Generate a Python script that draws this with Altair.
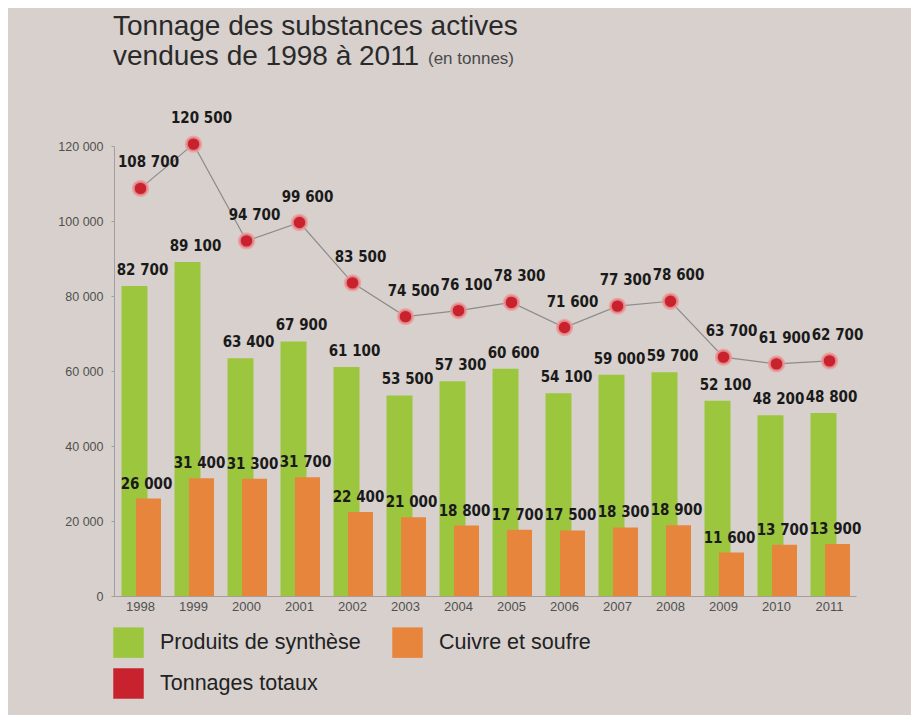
import altair as alt
import pandas as pd

years = ["1998", "1999", "2000", "2001", "2002", "2003", "2004", "2005", "2006", "2007", "2008", "2009", "2010", "2011"]
synthese = [82700, 89100, 63400, 67900, 61100, 53500, 57300, 60600, 54100, 59000, 59700, 52100, 48200, 48800]
cuivre = [26000, 31400, 31300, 31700, 22400, 21000, 18800, 17700, 17500, 18300, 18900, 11600, 13700, 13900]
totaux = [108700, 120500, 94700, 99600, 83500, 74500, 76100, 78300, 71600, 77300, 78600, 63700, 61900, 62700]

# legend is filled column by column: this order gives
# row 1: Produits de synthèse, Cuivre et soufre / row 2: Tonnages totaux
series_names = ["Produits de synthèse", "Tonnages totaux", "Cuivre et soufre"]
series_colors = ["#9dc63f", "#c8222e", "#e8853d"]
GREEN, RED, ORANGE = series_colors
y_ticks = [0, 20000, 40000, 60000, 80000, 100000, 120000]


def fr(v):
    return f"{v:,}".replace(",", " ")


df = pd.DataFrame({
    "year": years,
    "synth": synthese,
    "cuivre": cuivre,
    "total": totaux,
    "synth_lbl": [fr(v) for v in synthese],
    "cuivre_lbl": [fr(v) for v in cuivre],
    "total_lbl": [fr(v) for v in totaux],
})

LABEL_FONT = "Liberation Sans Narrow, DejaVu Sans Condensed, sans-serif"
TITLE_FONT = "Liberation Sans, Arial, sans-serif"

x_enc = alt.X(
    "year:O",
    sort=years,
    scale=alt.Scale(paddingInner=0, paddingOuter=0),
    axis=alt.Axis(
        title=None, labelAngle=0, ticks=False, labelFontSize=13, labelColor="#505050",
        labelPadding=4, domainColor="#a89c94", labelFont=TITLE_FONT,
    ),
)
y_scale = alt.Scale(domain=[0, 120000], nice=False)
y_enc_axis = alt.Axis(
    title=None, values=y_ticks, grid=False,
    labelExpr="replace(format(datum.value, ','), ',', ' ')",
    labelFontSize=12.5, labelColor="#505050", labelPadding=8, tickSize=3,
    tickColor="#a0a0a0", domainColor="#a0a0a0", labelFont=TITLE_FONT,
)

color_scale = alt.Scale(domain=series_names, range=series_colors)
legend = alt.Legend(
    title=None, orient="none", legendX=-1, legendY=481, columns=2,
    symbolType="square", symbolSize=930, symbolStrokeWidth=0, symbolOpacity=1,
    labelFontSize=21.5, labelColor="#222222", labelFont=TITLE_FONT,
    labelOffset=16, columnPadding=31, rowPadding=10, padding=0,
    labelLimit=400,
)

base = alt.Chart(df)

green = base.transform_calculate(series="'Produits de synthèse'").mark_bar(
    width=26, xOffset=-6
).encode(
    x=x_enc,
    y=alt.Y("synth:Q", scale=y_scale, axis=y_enc_axis),
    color=alt.Color("series:N", scale=color_scale, legend=legend),
)

orange = base.transform_calculate(series="'Cuivre et soufre'").mark_bar(
    width=25, xOffset=8
).encode(
    x=x_enc,
    y=alt.Y("cuivre:Q", scale=y_scale),
    color=alt.Color("series:N", scale=color_scale, legend=legend),
)

line = base.mark_line(color="#8c8c8c", strokeWidth=1.2).encode(
    x=x_enc, y=alt.Y("total:Q", scale=y_scale)
)

points = base.mark_point(
    filled=True, shape="circle", size=210, fill=RED, fillOpacity=1,
    stroke="#eb9c9c", strokeWidth=3, strokeOpacity=0.8,
).encode(x=x_enc, y=alt.Y("total:Q", scale=y_scale))

lbl_common = dict(fontWeight="bold", fontSize=15, font=LABEL_FONT, color="#1a1a1a")

green_lbl = base.mark_text(dx=2, dy=-16, baseline="middle", **lbl_common).encode(
    x=x_enc, y=alt.Y("synth:Q", scale=y_scale), text="synth_lbl:N"
)
orange_lbl = base.mark_text(dx=6, dy=-15, baseline="middle", **lbl_common).encode(
    x=x_enc, y=alt.Y("cuivre:Q", scale=y_scale), text="cuivre_lbl:N"
)
total_lbl = base.mark_text(dx=8, dy=-26, baseline="middle", **lbl_common).encode(
    x=x_enc, y=alt.Y("total:Q", scale=y_scale), text="total_lbl:N"
)

title1 = alt.Chart(pd.DataFrame({"t": ["Tonnage des substances actives"]})).mark_text(
    align="left", baseline="alphabetic", fontSize=28, font=TITLE_FONT, color="#2a2a2a"
).encode(x=alt.value(-1), y=alt.value(-111), text="t:N")
title2 = alt.Chart(pd.DataFrame({"t": ["vendues de 1998 à 2011"]})).mark_text(
    align="left", baseline="alphabetic", fontSize=28, font=TITLE_FONT, color="#2a2a2a"
).encode(x=alt.value(-1), y=alt.value(-81), text="t:N")
title3 = alt.Chart(pd.DataFrame({"t": ["(en tonnes)"]})).mark_text(
    align="left", baseline="alphabetic", fontSize=17, font=TITLE_FONT, color="#4a4a4a"
).encode(x=alt.value(314), y=alt.value(-82), text="t:N")

chart = alt.layer(
    green, orange, line, points, green_lbl, orange_lbl, total_lbl, title1, title2, title3
).properties(
    width=742, height=450,
    autosize=alt.AutoSizeParams(type="none"),
    padding={"left": 106, "top": 138, "right": 55, "bottom": 119},
    background="#d7d0cd",
).configure_view(stroke=None)

chart.save("out.html", embed_options={"renderer": "svg", "actions": False})
